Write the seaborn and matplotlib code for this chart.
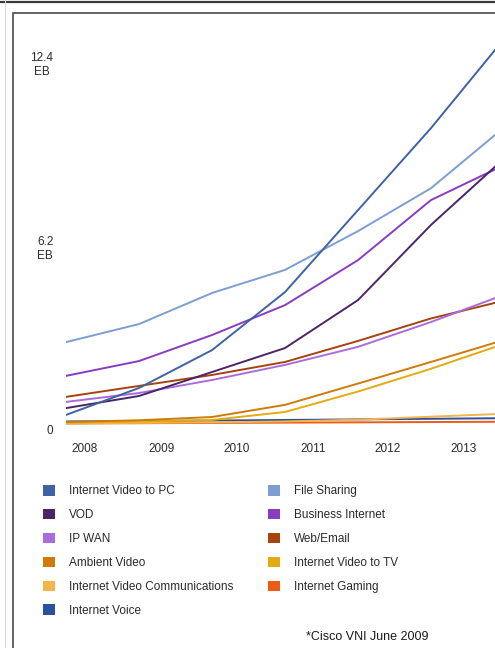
import matplotlib
matplotlib.use("Agg")
import matplotlib.pyplot as plt
import matplotlib.transforms as mtransforms
from matplotlib.patches import Patch, Rectangle
from matplotlib.lines import Line2D
import seaborn as sns
import pandas as pd

# ---- data (EB per month) ----
years = [2008, 2009, 2010, 2011, 2012, 2013, 2014]
internet_video_pc = [0.34, 1.25, 2.53, 4.49, 7.26, 10.03, 13.04]
file_sharing = [2.80, 3.41, 4.46, 5.24, 6.55, 8.00, 10.05]
vod = [0.57, 0.98, 1.79, 2.60, 4.22, 6.76, 9.00]
business_internet = [1.66, 2.16, 3.04, 4.05, 5.57, 7.60, 8.78]
ip_wan = [0.78, 1.08, 1.52, 2.03, 2.64, 3.48, 4.40]
web_email = [0.95, 1.32, 1.69, 2.13, 2.84, 3.60, 4.20]
ambient_video = [0.10, 0.16, 0.27, 0.68, 1.40, 2.13, 2.87]
internet_video_tv = [0.08, 0.12, 0.17, 0.44, 1.13, 1.90, 2.74]
internet_video_comm = [0.06, 0.07, 0.09, 0.12, 0.18, 0.28, 0.38]
internet_gaming = [0.05, 0.06, 0.07, 0.08, 0.09, 0.10, 0.11]
internet_voice = [0.12, 0.13, 0.15, 0.17, 0.19, 0.21, 0.23]

series_names = ["Internet Video to PC", "File Sharing", "VOD", "Business Internet",
                "IP WAN", "Web/Email", "Ambient Video", "Internet Video to TV",
                "Internet Video Communications", "Internet Gaming", "Internet Voice"]
series_values = [internet_video_pc, file_sharing, vod, business_internet, ip_wan,
                 web_email, ambient_video, internet_video_tv, internet_video_comm,
                 internet_gaming, internet_voice]
legend_order = ["Internet Video to PC", "VOD", "IP WAN", "Ambient Video",
                "Internet Video Communications", "Internet Voice",
                "File Sharing", "Business Internet", "Web/Email",
                "Internet Video to TV", "Internet Gaming"]

year_labels = ["2008", "2009", "2010", "2011", "2012", "2013"]
y_ticks = [0, 6.2, 12.4]
y_tick_labels = ["0", "6.2\nEB", "12.4\nEB"]
footnote = "*Cisco VNI June 2009"

# ---- style ----
colors = {
    "Internet Video to PC": "#3f62a3",
    "File Sharing": "#7d9dd3",
    "VOD": "#4c2567",
    "Business Internet": "#8a3cc0",
    "IP WAN": "#ab6cdb",
    "Web/Email": "#a8420e",
    "Ambient Video": "#cf7b0a",
    "Internet Video to TV": "#e3ab12",
    "Internet Video Communications": "#f2b54c",
    "Internet Gaming": "#ec5c12",
    "Internet Voice": "#2a50a0",
}
xtick_pos = [2008.26, 2009.315, 2010.34, 2011.38, 2012.41, 2013.44]

sns.set_style("white")
plt.rcParams["font.family"] = ["Liberation Sans", "DejaVu Sans"]

rows = []
for name, vals in zip(series_names, series_values):
    for yr, v in zip(years, vals):
        rows.append({"year": yr, "value": v, "series": name})
df = pd.DataFrame(rows)

W, H = 495, 648
fig = plt.figure(figsize=(W / 100, H / 100), dpi=100)

# frame decorations
fig.add_artist(Line2D([0, 1], [1 - 1.5 / H, 1 - 1.5 / H], transform=fig.transFigure,
                      color="#3a3a3a", lw=1.6))
fig.add_artist(Line2D([5 / W, 5 / W], [0, 1], transform=fig.transFigure,
                      color="#d8d8d8", lw=0.8))
fig.add_artist(Rectangle((12.5 / W, -0.2), 1.2, 1.2 - 12.5 / H,
                         transform=fig.transFigure, fill=False,
                         edgecolor="#4a4a4a", lw=1.2))

# axes geometry: x 2008 -> px 66, 2014 -> px 504 ; y 0 -> px 425, 29.6 px per EB
px_per_eb = 29.6
ytop = 14.0
ax_left = 66 / W
ax_w = (504 - 66) / W
ax_bottom = (H - 425) / H
ax_h = (ytop * px_per_eb) / H
ax = fig.add_axes([ax_left, ax_bottom, ax_w, ax_h])

sns.lineplot(data=df, x="year", y="value", hue="series", hue_order=series_names[::-1],
             palette=colors, linewidth=1.4, legend=False, ax=ax, sort=False)

ax.set_xlim(2008, 2014)
ax.set_ylim(0, ytop)
for s in ax.spines.values():
    s.set_visible(False)
ax.set_xlabel("")
ax.set_ylabel("")
ax.set_xticks(xtick_pos)
ax.set_xticklabels(year_labels, fontsize=8.5, color="#2a2a2a")
ax.set_yticks(y_ticks)
ax.set_yticklabels(y_tick_labels, fontsize=8.5, color="#2a2a2a",
                   multialignment="center")
ax.tick_params(axis="x", length=0, pad=13)
ax.tick_params(axis="y", length=0, pad=9)
ax.patch.set_alpha(0)
shift = mtransforms.ScaledTranslation(0, -5 / 100, fig.dpi_scale_trans)
for lab in ax.get_yticklabels():
    lab.set_transform(lab.get_transform() + shift)

handles = [Patch(facecolor=colors[n], edgecolor="none", label=n) for n in legend_order]
fig.legend(handles=handles, labels=legend_order, ncol=2, loc="upper left",
           bbox_to_anchor=(43 / W, 1 - 485 / H), bbox_transform=fig.transFigure,
           frameon=False, fontsize=8.5, handlelength=1.0, handleheight=1.0,
           handletextpad=1.19, labelspacing=0.98, columnspacing=2.97,
           borderpad=0, borderaxespad=0, labelcolor="#2a2a2a")

fig.text(306 / W, 1 - 637 / H, footnote, fontsize=9, color="#1a1a1a",
         ha="left", va="center")

fig.savefig("out.png", dpi=100)
